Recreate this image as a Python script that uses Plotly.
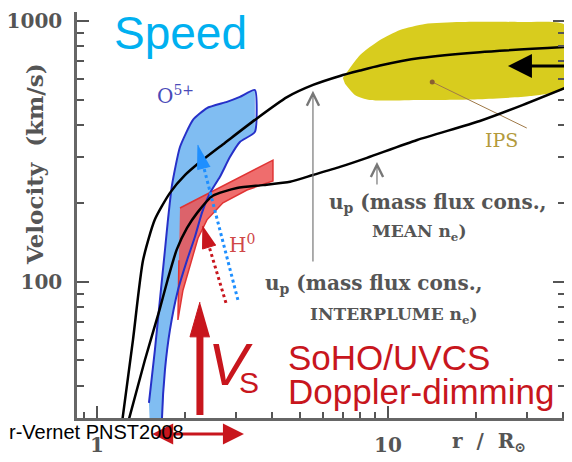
import math
import plotly.graph_objects as go

# ---------------- data (r in solar radii, v in km/s) ----------------
x_range = [0.854, 40.6]
y_range = [30.1, 1083]

x_major = [1, 10]
x_major_text = ["1", "10"]
x_minor = [0.9, 2, 3, 4, 5, 6, 7, 8, 9, 20, 30, 40]
y_major = [100, 1000]
y_major_text = ["100", "1000"]
y_minor = [40, 50, 60, 70, 80, 90, 200, 300, 400, 500, 600, 700, 800, 900]

# model: mass flux cons., INTERPLUME n_e (upper curve)
r_interplume = [1.22, 1.33, 1.44, 1.58, 1.78, 2.01, 2.26, 2.75, 3.49, 4.50, 5.53, 6.84, 8.02, 9.39, 12.9, 20.7, 40.6]
v_interplume = [29, 60, 121, 173, 219, 257, 288, 341, 418, 511, 569, 616, 646, 675, 721, 760, 795]

# model: mass flux cons., MEAN n_e (lower curve)
r_mean = [1.28, 1.46, 1.64, 1.75, 1.88, 2.04, 2.21, 2.50, 3.03, 3.72, 4.61, 5.53, 6.84, 8.47, 12.6, 20.7, 28.4, 40.6]
v_mean = [29, 50, 78, 102, 133, 161, 184, 214, 229, 235, 242, 257, 276, 299, 350, 414, 472, 554]

# O5+ outflow band (UVCS)
r_o5 = [1.509, 1.582, 1.646, 1.713, 1.754, 1.811, 1.929, 2.138, 2.388, 2.797, 3.099, 3.49,
        3.49, 3.099, 2.864, 2.647, 2.445, 2.295, 2.172, 2.039, 1.898, 1.782, 1.713, 1.673, 1.673]
v_o5 = [34.4, 54.9, 85.3, 132.6, 172.8, 235, 329, 418, 464, 490, 512, 544,
        376, 344, 301, 253, 219, 184, 149, 121, 93, 65.5, 46, 30, 28]
r_o5_base = [1.52]
v_o5_base = [28]

# H0 outflow band (UVCS)
r_h0 = [1.929, 4.026, 4.026, 3.278, 2.71, 2.388, 2.224, 2.088, 1.975, 1.898, 1.913]
v_h0 = [192, 293, 244, 225, 201, 173, 147, 116, 93, 71.5, 121]

# IPS range
r_ips = [7.0, 8.02, 9.39, 11.0, 13.4, 17.7, 28.4, 40.6, 40.6, 30.8, 20.7, 12.9, 8.67, 7.70, 7.12]
v_ips = [605, 741, 846, 924, 974, 991, 991, 965, 554, 516, 502, 498, 498, 521, 575]
r_ips_leader = [14.2, 30.0]
v_ips_leader = [584, 389]

# annotation arrows
blue_shaft_r = [3.051, 2.332]
blue_shaft_v = [85.3, 273.4]
blue_head_r = [2.224, 2.218, 2.451]
blue_head_v = [335, 269.6, 277.3]
red_shaft_r = [2.776, 2.432]
red_shaft_v = [83.1, 136.1]
red_head_r = [2.313, 2.306, 2.565]
red_head_v = [163.9, 133.7, 138.5]
vs_shaft_r = [2.259, 2.259]
vs_shaft_v = [30.9, 63]
vs_head_r = [2.259, 2.088, 2.445]
vs_head_v = [83.8, 61.6, 61.6]

RED = "#c8161d"
SERIF = "DejaVu Serif"
SANS = "Liberation Sans, Arial"
NB = "\u00a0"
L = math.log10

fig = go.Figure()

fig.add_trace(go.Scatter(x=r_ips, y=v_ips, mode="lines", fill="toself",
                         fillcolor="#d8cc1e", line=dict(width=0, shape="spline", smoothing=0.6),
                         hoverinfo="skip"))
fig.add_trace(go.Scatter(x=r_ips_leader, y=v_ips_leader, mode="lines",
                         line=dict(color="#a07a48", width=1), hoverinfo="skip"))
fig.add_trace(go.Scatter(x=r_ips_leader[:1], y=v_ips_leader[:1], mode="markers",
                         marker=dict(color="#8a6030", size=5), hoverinfo="skip"))

fig.add_trace(go.Scatter(x=r_o5_base + r_o5, y=v_o5_base + v_o5, mode="lines", fill="toself",
                         fillcolor="#80bdf2", line=dict(width=0), hoverinfo="skip"))
fig.add_trace(go.Scatter(x=r_h0, y=v_h0, mode="lines", fill="toself",
                         fillcolor="rgba(236,84,84,0.85)", line=dict(color="#e03434", width=1.5),
                         hoverinfo="skip"))
fig.add_trace(go.Scatter(x=r_o5, y=v_o5, mode="lines",
                         line=dict(color="#2630c8", width=2, shape="spline", smoothing=0.5),
                         hoverinfo="skip"))

for rr, vv in [(r_interplume, v_interplume), (r_mean, v_mean)]:
    fig.add_trace(go.Scatter(x=rr, y=vv, mode="lines",
                             line=dict(color="black", width=2.5, shape="spline", smoothing=0.6),
                             hoverinfo="skip"))

# dotted arrows
fig.add_trace(go.Scatter(x=blue_shaft_r, y=blue_shaft_v, mode="lines",
                         line=dict(color="#1e8fff", width=3, dash="dot"), hoverinfo="skip"))
fig.add_trace(go.Scatter(x=blue_head_r, y=blue_head_v, mode="lines", fill="toself",
                         fillcolor="#1e8fff", line=dict(color="#1e8fff", width=1), hoverinfo="skip"))
fig.add_trace(go.Scatter(x=red_shaft_r, y=red_shaft_v, mode="lines",
                         line=dict(color=RED, width=3, dash="dot"), hoverinfo="skip"))
fig.add_trace(go.Scatter(x=red_head_r, y=red_head_v, mode="lines", fill="toself",
                         fillcolor=RED, line=dict(color=RED, width=1), hoverinfo="skip"))
# big V_S arrow
fig.add_trace(go.Scatter(x=vs_shaft_r, y=vs_shaft_v, mode="lines",
                         line=dict(color=RED, width=7), hoverinfo="skip"))
fig.add_trace(go.Scatter(x=vs_head_r, y=vs_head_v, mode="lines", fill="toself",
                         fillcolor=RED, line=dict(color=RED, width=1), hoverinfo="skip"))

ann = []
gray = "#555555"
lab1 = dict(family=SERIF, size=20, color=gray, weight="bold")
lab2 = dict(family=SERIF, size=17, color=gray, weight="bold")

def t(text, x, y, font, xanchor="center", yanchor="middle", xref="x", yref="y", **kw):
    d = dict(text=text, x=x, y=y, xref=xref, yref=yref, showarrow=False,
             xanchor=xanchor, yanchor=yanchor, font=font)
    d.update(kw)
    ann.append(d)

# arrows
ann.append(dict(x=L(5.525), y=L(540), ax=L(5.525), ay=L(118.2), axref="x", ayref="y",
                xref="x", yref="y", showarrow=True, arrowhead=5, arrowsize=2,
                arrowwidth=1.2, arrowcolor="#777", text=""))
ann.append(dict(x=L(9.17), y=L(288), ax=L(9.17), ay=L(233), axref="x", ayref="y",
                xref="x", yref="y", showarrow=True, arrowhead=5, arrowsize=2,
                arrowwidth=1.2, arrowcolor="#777", text=""))
ann.append(dict(x=L(25.85), y=L(672), ax=64, ay=0, xref="x", yref="y",
                showarrow=True, arrowhead=2, arrowsize=1.6, arrowwidth=3,
                arrowcolor="black", text=""))
ann.append(dict(x=L(3.20), y=-0.0394, ax=L(1.53), ay=0, axref="x", xref="x", yref="paper",
                showarrow=True, arrowhead=2, arrowsize=1.4, arrowwidth=3,
                startarrowhead=2, startarrowsize=1.4, arrowside="end+start",
                arrowcolor=RED, text=""))

# texts
t("Speed", 0.2887, 2.954, dict(family=SANS, size=46, color="#00b0f0"))
t("O<sup>5+</sup>", 0.1993, 2.7165, dict(family=SERIF, size=20, color="#4a4ab8"), xanchor="left")
t("H<sup>0</sup>", 0.4467, 2.145, dict(family=SERIF, size=20, color="#d04848"), xanchor="left")
t("IPS", 1.3918, 2.544, dict(family=SERIF, size=19, color="#b39a3c"))

t("u<sub>p</sub> (mass flux cons.,", (327 - 97) / 291, 2 + (282 - 203) / 261, lab1, xanchor="left")
t("MEAN n<sub>e</sub>)", (370 - 97) / 291, 2 + (282 - 233) / 261, lab2, xanchor="left")
t("u<sub>p</sub> (mass flux cons.,", (263 - 97) / 291, 2 + (282 - 284) / 261, lab1, xanchor="left")
t("INTERPLUME n<sub>e</sub>)", (308 - 97) / 291, 2 + (282 - 316) / 261, lab2, xanchor="left")

red_sans = dict(family=SANS, size=35, color=RED)
t("SoHO/UVCS", 0.6495, 1.7107, red_sans, xanchor="left")
t("Doppler-dimming", 0.6495, 1.5785, red_sans, xanchor="left")
t("<i>V</i>", 0.4605, 1.682, dict(family=SANS, size=60, color=RED))
t("S", 0.5223, 1.613, dict(family=SANS, size=30, color=RED))

t("r-Vernet PNST2008", 0.2234, -0.0345, dict(family=SANS, size=20, color="black"),
  xanchor="right", xref="paper", yref="paper")
t("r" + NB * 2 + "/" + NB * 2 + "R<sub>⊙</sub>", 0.8443, -0.0591,
  dict(family=SERIF, size=20, color=gray, weight="bold"), xref="paper", yref="paper")
t("Velocity" + NB + " (km/s)", -0.0857, 0.626,
  dict(family=SERIF, size=23, color=gray, weight="bold"),
  xref="paper", yref="paper", textangle=-90)

axis_common = dict(type="log", showgrid=False, zeroline=False, showline=True, automargin=False,
                   linecolor="#666", linewidth=2.5, ticks="inside", tickcolor="#555",
                   tickwidth=2, ticklen=12,
                   tickfont=dict(family=SERIF, size=20, color=gray, weight="bold"))

# the page body adds an 8px offset, so the figure is 8px smaller and margins shifted
fig.update_layout(
    width=564, height=454,
    margin=dict(l=69, r=7, t=4, b=44),
    paper_bgcolor="white", plot_bgcolor="white",
    showlegend=False,
    annotations=ann,
    xaxis=dict(range=[L(x_range[0]), L(x_range[1])], tickmode="array",
               tickvals=x_major, ticktext=x_major_text, mirror=False,
               ticklabelstandoff=7,
               minor=dict(tickmode="array", tickvals=x_minor, ticks="inside",
                          ticklen=6, tickwidth=1.5, tickcolor="#555", showgrid=False),
               **axis_common),
    yaxis=dict(range=[L(y_range[0]), L(y_range[1])], tickmode="array",
               tickvals=y_major, ticktext=y_major_text, mirror="ticks",
               ticklabelstandoff=8,
               minor=dict(tickmode="array", tickvals=y_minor, ticks="inside",
                          ticklen=7, tickwidth=1.5, tickcolor="#555", showgrid=False),
               **axis_common),
)

fig.write_html("out.html")
